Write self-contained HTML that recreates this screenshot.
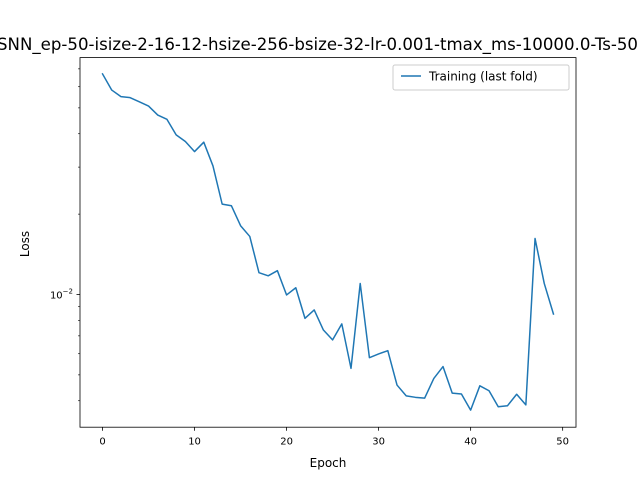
<!DOCTYPE html>
<html><head><meta charset="utf-8"><style>body{margin:0;background:#fff}svg{display:block}</style></head>
<body>
<svg id="chart" width="640" height="480" xmlns="http://www.w3.org/2000/svg" font-family="DejaVu Sans, Liberation Sans, sans-serif">
<rect width="640" height="480" fill="#fff"/>
<text x="-3" y="50" font-size="16.6" text-anchor="start">SNN_ep-50-isize-2-16-12-hsize-256-bsize-32-lr-0.001-tmax_ms-10000.0-Ts-50</text>
<g id="plot"></g>
<text x="328" y="467" font-size="12" text-anchor="middle">Epoch</text>
<text transform="translate(29,244) rotate(-90)" font-size="12" text-anchor="middle">Loss</text>
<g>
<rect x="393" y="65" width="176" height="25" rx="2" fill="#fff" fill-opacity="0.8" stroke="#ccc"/>
<line x1="401" y1="76" x2="421" y2="76" stroke="#1f77b4" stroke-width="1.5"/>
<text x="429" y="80.5" font-size="12">Training (last fold)</text>
</g>
</svg>
<script>
const epochs = [];
for (let i = 0; i < 50; i++) epochs.push(i);
const trainLoss = [0.0670,0.0583,0.0551,0.0546,0.0527,0.0508,0.0470,0.0453,0.0396,0.0374,
0.0343,0.0372,0.0303,0.0218,0.0215,0.0181,0.0165,0.01207,0.01175,0.01228,
0.00996,0.0106,0.00814,0.00875,0.00736,0.00676,0.00776,0.00529,0.0110,0.00580,
0.00599,0.00616,0.00458,0.00417,0.00412,0.00409,0.00485,0.00537,0.00427,0.00424,
0.00369,0.00455,0.00436,0.00380,0.00383,0.00423,0.00386,0.0162,0.0110,0.00845];
const xTicks = [0,10,20,30,40,50];
const minorY = [0.004,0.005,0.006,0.007,0.008,0.009,0.02,0.03,0.04,0.05,0.06,0.07];

const L=80,R=576,T=57.6,B=427.2;
const xMin=-2.45,xMax=51.45;
const y10=294.5, dec=267;
const X=v=>L+(v-xMin)/(xMax-xMin)*(R-L);
const Y=v=>y10-(Math.log10(v)+2)*dec;
const NS='http://www.w3.org/2000/svg';
const g=document.getElementById('plot');
function mk(t,a){const e=document.createElementNS(NS,t);for(const k in a)e.setAttribute(k,a[k]);g.appendChild(e);return e;}

const clip=document.createElementNS(NS,'clipPath');clip.setAttribute('id','cp');
const cr=document.createElementNS(NS,'rect');cr.setAttribute('x',L);cr.setAttribute('y',T);cr.setAttribute('width',R-L);cr.setAttribute('height',B-T);
clip.appendChild(cr);g.appendChild(clip);

const d=trainLoss.map((v,i)=>(i?'L':'M')+X(epochs[i]).toFixed(2)+','+Y(v).toFixed(2)).join('');
const line=mk('path',{d:d,fill:'none',stroke:'#1f77b4','stroke-width':1.5,'clip-path':'url(#cp)','stroke-linejoin':'round','stroke-linecap':'square'});



xTicks.forEach(v=>{
  const x=X(v);
  mk('line',{x1:x,y1:B,x2:x,y2:B+3.5,stroke:'#000','stroke-width':0.8});
  const t=mk('text',{x:x,y:B+17.5,'font-size':10,'text-anchor':'middle'});
  t.textContent=v;
  
  
});
minorY.forEach(v=>{const y=Y(v);mk('line',{x1:L-2,y1:y,x2:L,y2:y,stroke:'#000','stroke-width':0.6});});
mk('line',{x1:L-3.5,y1:Y(0.01),x2:L,y2:Y(0.01),stroke:'#000','stroke-width':0.8});
const yl=mk('text',{x:L-7,y:Y(0.01)+4,'font-size':10,'text-anchor':'end'});
yl.innerHTML='10<tspan dy="-5" font-size="7">−2</tspan>';



const frame=mk('rect',{x:L,y:T,width:R-L,height:B-T,fill:'none',stroke:'#000','stroke-width':0.8});


</script>
</body></html>
